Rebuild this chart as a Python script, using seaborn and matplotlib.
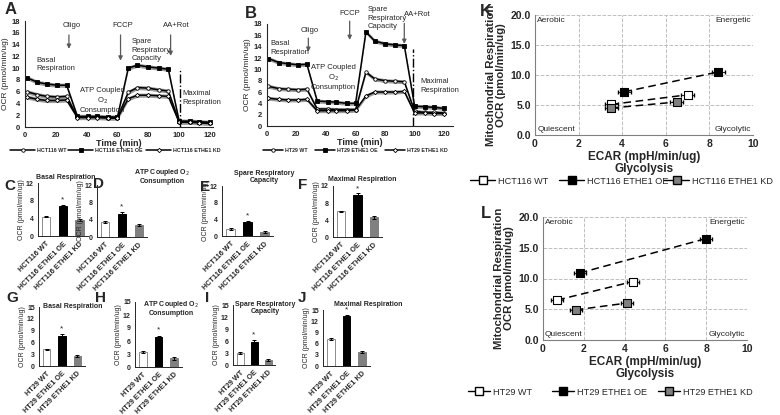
import numpy as np
import matplotlib
matplotlib.use('Agg')
import matplotlib.pyplot as plt
import seaborn as sns
from matplotlib.lines import Line2D

sns.set_style('white')
plt.rcParams['font.family'] = ['Liberation Sans', 'DejaVu Sans']

# ---- data ----
time = [1, 8, 14, 21, 27, 34, 41, 47, 54, 60, 67, 73, 80, 87, 93, 100, 107, 113, 120]

hct_wt = [6.0, 5.5, 5.2, 5.1, 5.2, 1.7, 1.7, 1.7, 1.6, 1.6, 5.9, 6.7, 6.6, 6.3, 6.1, 0.9, 0.9, 0.8, 0.7]
hct_oe = [8.4, 7.6, 7.3, 7.1, 7.1, 1.8, 1.8, 1.8, 1.7, 1.7, 10.0, 10.5, 10.2, 10.0, 9.8, 1.0, 1.0, 0.9, 0.8]
hct_kd = [5.1, 4.7, 4.5, 4.5, 4.6, 1.6, 1.6, 1.6, 1.5, 1.5, 4.8, 5.4, 5.4, 5.3, 5.2, 0.8, 0.8, 0.7, 0.6]

ht_wt = [7.0, 6.6, 6.5, 6.4, 6.5, 3.0, 3.0, 2.9, 2.9, 2.9, 9.5, 8.3, 8.0, 7.9, 7.8, 2.6, 2.4, 2.4, 2.3]
ht_oe = [11.9, 11.2, 11.0, 10.8, 10.9, 4.4, 4.3, 4.2, 4.0, 4.0, 16.6, 15.0, 14.5, 14.3, 14.2, 3.5, 3.4, 3.3, 3.1]
ht_kd = [4.9, 4.7, 4.6, 4.6, 4.7, 2.7, 2.7, 2.7, 2.7, 2.8, 5.3, 6.0, 6.0, 6.0, 6.1, 2.3, 2.3, 2.2, 2.2]

hct_cats = ['HCT116 WT', 'HCT116 ETHE1 OE', 'HCT116 ETHE1 KD']
ht_cats = ['HT29 WT', 'HT29 ETHE1 OE', 'HT29 ETHE1 KD']

hct_basal = [4.4, 6.7, 3.6]
hct_atp = [3.5, 5.4, 2.8]
hct_spare = [1.6, 3.3, 1.0]
hct_max = [6.0, 9.9, 4.6]
ht_basal = [4.2, 7.7, 2.5]
ht_atp = [3.5, 6.9, 2.0]
ht_spare = [3.0, 5.8, 1.3]
ht_max = [7.2, 13.4, 3.7]
bar_err = [0.2, 0.35, 0.3]

# energy map: (ECAR, OCR) start -> end
k_ecar = {'WT': [3.5, 7.0], 'OE': [4.1, 8.4], 'KD': [3.5, 6.5]}
k_ocr = {'WT': [5.1, 6.7], 'OE': [7.2, 10.5], 'KD': [4.5, 5.5]}
l_ecar = {'WT': [0.7, 4.4], 'OE': [1.8, 8.0], 'KD': [1.6, 4.1]}
l_ocr = {'WT': [6.5, 9.5], 'OE': [10.9, 16.5], 'KD': [4.9, 6.0]}

W, H = 780, 415
fig = plt.figure(figsize=(7.8, 4.15), dpi=100)


def box(l, t, r, b):
    return [l / W, 1 - b / H, (r - l) / W, (b - t) / H]


def plabel(x, y, s, size=12):
    fig.text(x / W, 1 - y / H, s, fontsize=size, fontweight='bold', va='center', ha='left')


def entry(handle, x_text, y, fs, hl_px, weight='normal'):
    # one legend entry, text starting at x_text (pixels)
    fpx = fs * 100 / 72
    hl = hl_px / fpx
    x0 = x_text - hl_px - 0.3 * fpx
    fig.legend(handles=[handle], loc='center left', bbox_to_anchor=(x0 / W, 1 - y / H),
               frameon=False, borderpad=0, borderaxespad=0, handlelength=hl, handletextpad=0.3,
               prop={'size': fs, 'weight': weight})


styles = [dict(marker='o', mfc='white', ms=2.5),
          dict(marker='s', mfc='black', ms=2.5),
          dict(marker='D', mfc='white', ms=2.2)]


def time_panel(rect, series, labels, xmax, text_x, hl_px):
    ax = fig.add_axes(box(*rect))
    for vals, st, lab, tx in zip(series, styles, labels, text_x):
        v = np.array(vals)
        ax.fill_between(time, v - 0.35, v + 0.35, color='0.6', lw=0)
        sns.lineplot(x=time, y=vals, ax=ax, color='black', lw=1.1, marker=st['marker'],
                     markersize=st['ms'], markerfacecolor=st['mfc'], markeredgecolor='black',
                     markeredgewidth=0.6, legend=False)
        h = Line2D([0], [0], color='black', lw=1.1, marker=st['marker'], ms=st['ms'],
                   mfc=st['mfc'], mec='black', mew=0.6, label=lab)
        entry(h, tx, 150, 3.8, hl_px, 'bold')
    ax.set_xlim(0, xmax)
    ax.set_ylim(0, 18)
    ax.set_xticks([0, 20, 40, 60, 80, 100, 120])
    ax.set_yticks(range(0, 19, 2))
    ax.tick_params(labelsize=5.5, length=2, pad=1.5)
    for t in ax.get_xticklabels() + ax.get_yticklabels():
        t.set_fontweight('bold')
    ax.set_xlabel('Time (min)', fontsize=6.5, fontweight='bold', labelpad=0)
    ax.set_ylabel('OCR (pmol/min/ug)', fontsize=6, labelpad=2)
    sns.despine(ax=ax)
    for s in ['left', 'bottom']:
        ax.spines[s].set_linewidth(0.8)
    return ax


def arrow(ax, x, y0, y1, text, tx, ty):
    ax.annotate('', xy=(x, y1), xytext=(x, y0), annotation_clip=False,
                arrowprops=dict(arrowstyle='-|>', color='0.35', lw=0.9, mutation_scale=6))
    ax.text(tx, ty, text, fontsize=5.5, ha='center', va='center', clip_on=False)


# ---- A ----
axA = time_panel((25, 21, 213, 127), [hct_wt, hct_oe, hct_kd], hct_cats, 122, [37, 95, 173], 25)
arrow(axA, 28.5, 16.1, 12.8, 'Oligo', 30, 17.2)
arrow(axA, 62, 16.1, 10.8, 'FCCP', 63.5, 17.2)
arrow(axA, 94.5, 16.1, 11.6, 'AA+Rot', 98.5, 17.2)
axA.plot([100.5, 100.5], [0, 10], color='black', lw=1, ls='-.')
axA.text(7.5, 10.6, 'Basal\nRespiration', fontsize=5.5, ha='left', va='center', linespacing=1.3)
axA.text(50, 4.5, 'ATP Coupled\nO$_2$\nConsumption', fontsize=5.5, ha='center', va='center', linespacing=1.2)
axA.text(69, 13.0, 'Spare\nRespiratory\nCapacity', fontsize=5.5, ha='left', va='center', linespacing=1.3)
axA.text(102, 4.9, 'Maximal\nRespiration', fontsize=5.5, ha='left', va='center', linespacing=1.3)
plabel(5, 10, 'A')

# ---- B ----
axB = time_panel((267, 24, 453, 126), [ht_wt, ht_oe, ht_kd], ht_cats, 126, [285, 337, 407], 20)
arrow(axB, 28, 16.0, 12.6, 'Oligo', 29, 16.9)
arrow(axB, 56, 19.0, 14.7, 'FCCP', 56, 19.9)
arrow(axB, 93, 18.6, 14.0, 'AA+Rot', 102, 19.6)
axB.plot([99, 99], [0, 13.6], color='black', lw=1, ls='-.')
axB.text(2, 13.8, 'Basal\nRespiration', fontsize=5.5, ha='left', va='center', linespacing=1.3)
axB.text(45, 8.6, 'ATP Coupled\nO$_2$\nConsumption', fontsize=5.5, ha='center', va='center', linespacing=1.2)
axB.text(68, 19.0, 'Spare\nRespiratory\nCapacity', fontsize=5.5, ha='left', va='center', linespacing=1.3,
         clip_on=False)
axB.text(104, 7.1, 'Maximal\nRespiration', fontsize=5.5, ha='left', va='center', linespacing=1.3)
plabel(245, 13, 'B')


# ---- bar panels ----
def bar_panel(rect, cats, vals, ymax, step, title, tx, ty):
    ax = fig.add_axes(box(*rect))
    sns.barplot(x=cats, y=vals, hue=cats, palette=['white', 'black', '0.5'], legend=False,
                ax=ax, width=0.5, linewidth=0.7)
    edges = ['0.55', 'black', '0.5']
    for p, e in zip(ax.patches, edges):
        p.set_edgecolor(e)
    ax.errorbar(range(3), vals, yerr=bar_err, fmt='none', ecolor='black', elinewidth=0.7, capsize=1.5, capthick=0.7)
    ax.text(1, vals[1] + bar_err[1] + ymax * 0.03, '*', ha='center', va='bottom', fontsize=6)
    ax.set_ylim(0, ymax)
    ax.set_xlim(-0.5, 2.5)
    ax.set_yticks(np.arange(0, ymax + 0.1, step))
    ax.tick_params(labelsize=5, length=2, pad=1)
    ax.set_xticks(range(3))
    ax.set_xticklabels(cats, rotation=45, ha='right', rotation_mode='anchor', fontsize=5.2, fontweight='bold')
    for t in ax.get_yticklabels():
        t.set_fontweight('bold')
    ax.set_ylabel('OCR (pmol/min/ug)', fontsize=5, labelpad=1)
    sns.despine(ax=ax)
    for s in ['left', 'bottom']:
        ax.spines[s].set_linewidth(0.7)
    fig.text(tx / W, 1 - ty / H, title, fontsize=5, fontweight='bold', ha='center', va='center', linespacing=1.1)
    return ax


bar_panel((38, 183, 88, 236), hct_cats, hct_basal, 12, 4, 'Basal Respiration', 66, 177)
bar_panel((97, 185, 147, 237), hct_cats, hct_atp, 12, 4, 'ATP Coupled O$_2$\nConsumption', 162, 176)
bar_panel((222, 186, 273, 236), hct_cats, hct_spare, 12, 4, 'Spare Respiratory\nCapacity', 264, 177)
bar_panel((333, 186, 382, 237), hct_cats, hct_max, 12, 4, 'Maximal Respiration', 362, 179)
plabel(4, 186, 'C', 11)
plabel(93, 184, 'D', 11)
plabel(200, 187, 'E', 11)
plabel(298, 185, 'F', 11)

bar_panel((39, 307, 85, 366), ht_cats, ht_basal, 15, 3, 'Basal Respiration', 73, 307)
bar_panel((135, 302, 182, 367), ht_cats, ht_atp, 15, 3, 'ATP Coupled O$_2$\nConsumption', 171, 308)
bar_panel((233, 305, 275, 365), ht_cats, ht_spare, 15, 3, 'Spare Respiratory\nCapacity', 265, 308)
bar_panel((323, 310, 370, 366), ht_cats, ht_max, 15, 3, 'Maximal Respiration', 368, 304)
plabel(6, 298, 'G', 11)
plabel(95, 298, 'H', 11)
plabel(205, 298, 'I', 11)
plabel(298, 298, 'J', 11)


# ---- energy maps ----
def energy_panel(rect, ecar, ocr, cats, text_x, hl_px, ly):
    ax = fig.add_axes(box(*rect))
    fills = {'WT': 'white', 'OE': 'black', 'KD': '0.5'}
    for key, lab, tx in zip(['WT', 'OE', 'KD'], cats, text_x):
        sns.lineplot(x=ecar[key], y=ocr[key], ax=ax, color='black', lw=1.1, legend=False)
        ax.lines[-1].set_dashes([5, 3])
        ax.errorbar(ecar[key], ocr[key], xerr=0.3, fmt='none', ecolor='black', elinewidth=0.6, capsize=1.2)
        sns.scatterplot(x=ecar[key], y=ocr[key], ax=ax, marker='s', s=32, color=fills[key],
                        edgecolor='black', linewidth=0.8, zorder=5)
        h = Line2D([0], [0], color='black', lw=1, marker='s', ms=5.5, mfc=fills[key], mec='black', label=lab)
        entry(h, tx, ly, 6.6, hl_px)
    ax.set_xlim(0, 10)
    ax.set_ylim(0, 20)
    ax.set_xticks(range(0, 11, 2))
    ax.set_yticks(range(0, 21, 5))
    ax.set_yticklabels(['%.1f' % v for v in range(0, 21, 5)])
    ax.tick_params(labelsize=7.5, length=0, pad=3)
    for t in ax.get_xticklabels() + ax.get_yticklabels():
        t.set_fontweight('bold')
    ax.grid(True, ls='--', color='0.75', lw=0.7)
    for s in ['top', 'right']:
        ax.spines[s].set_visible(False)
    for s in ['left', 'bottom']:
        ax.spines[s].set_color('0.5')
        ax.spines[s].set_linewidth(0.8)
    ax.set_xlabel('ECAR (mpH/min/ug)\nGlycolysis', fontsize=8.5, fontweight='bold', labelpad=1, linespacing=1.0)
    ax.set_ylabel('Mitochondrial Respiration\nOCR (pmol/min/ug)', fontsize=8.2, fontweight='bold', labelpad=3,
                  linespacing=1.0)
    ax.text(0.1, 19.6, 'Aerobic', fontsize=6, ha='left', va='top')
    ax.text(9.9, 19.6, 'Energetic', fontsize=6, ha='right', va='top')
    ax.text(0.1, 0.3, 'Quiescent', fontsize=6, ha='left', va='bottom')
    ax.text(9.9, 0.3, 'Glycolytic', fontsize=6, ha='right', va='bottom')
    return ax


axK = energy_panel((535, 15, 753, 135), k_ecar, k_ocr, hct_cats, [498, 587, 692], 25, 181)
plabel(480, 11, 'K')

axL = energy_panel((543, 217, 747, 340), l_ecar, l_ocr, ht_cats, [493, 577, 683], 22, 392)
plabel(481, 213, 'L')

fig.savefig('out.png', dpi=100)
